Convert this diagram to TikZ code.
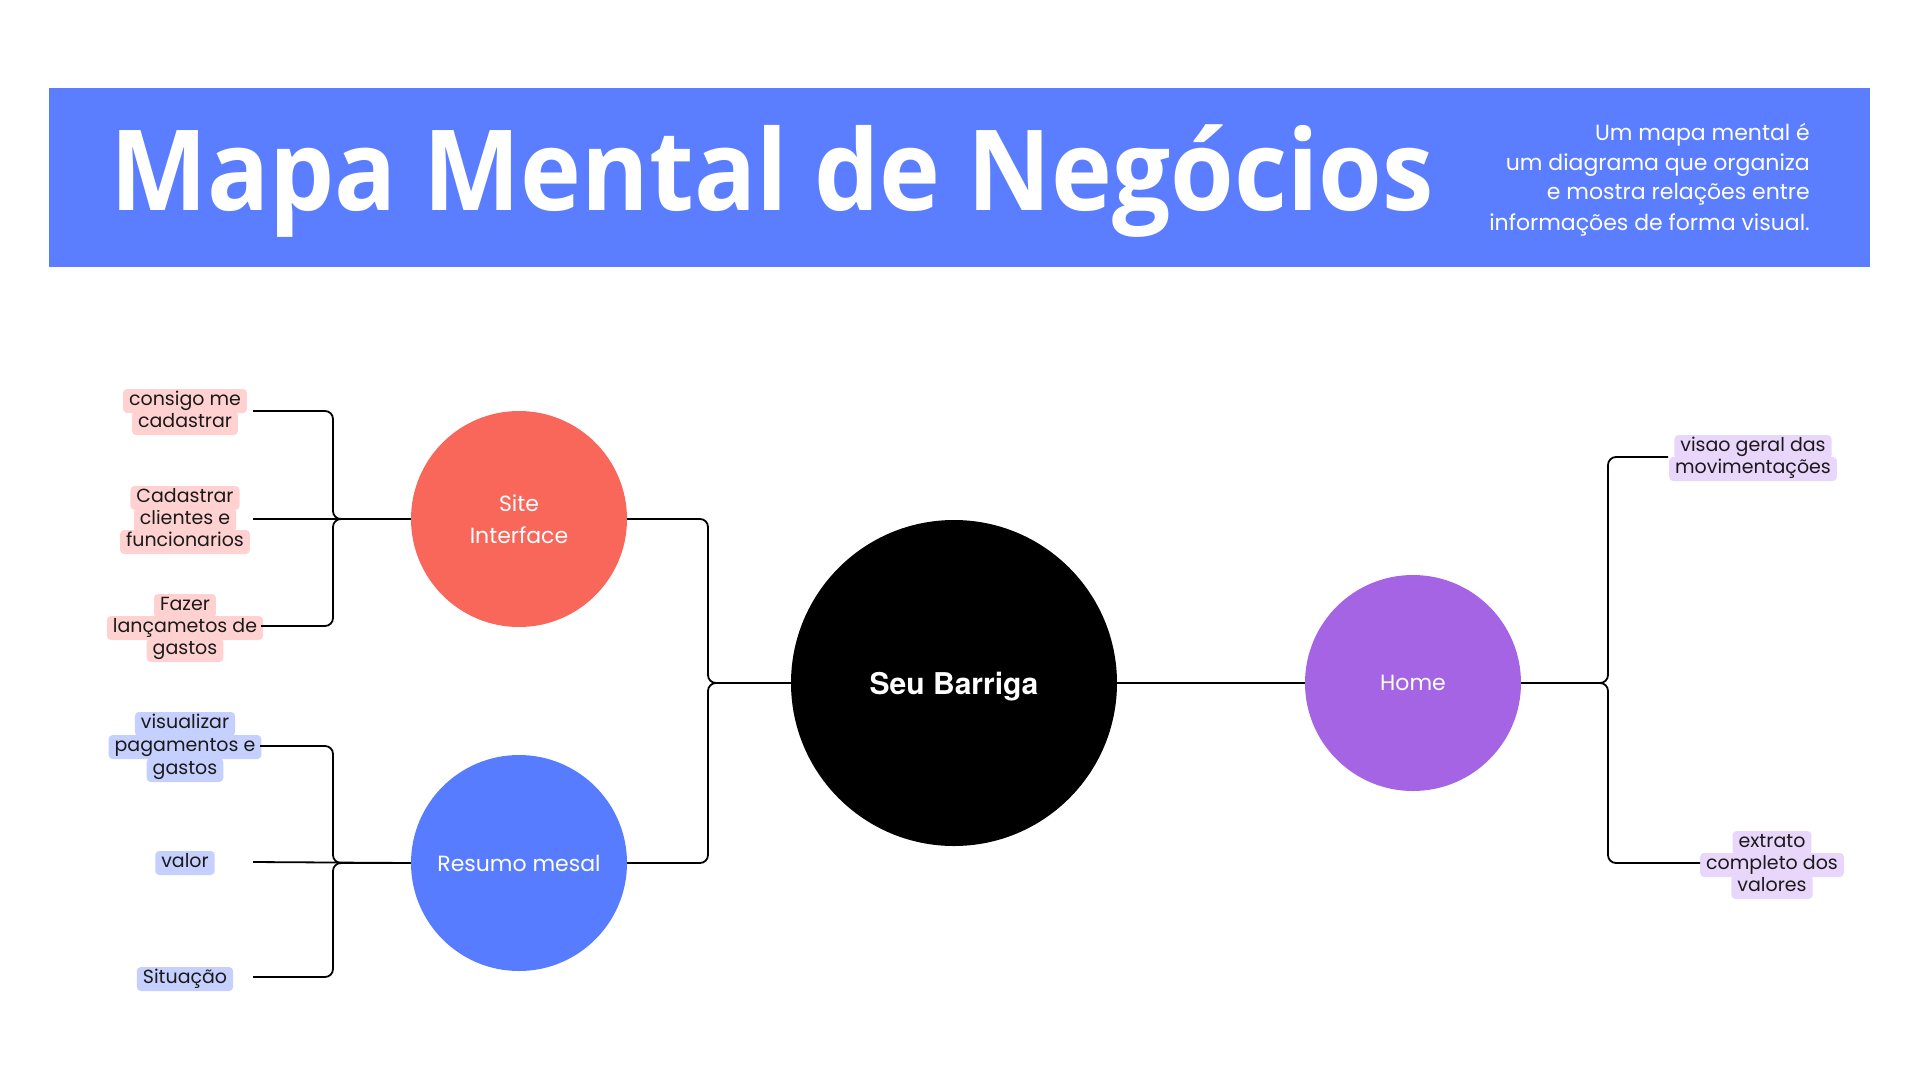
\documentclass[tikz,border=0pt]{standalone}
\usepackage{fontspec}
\setmainfont{Poppins}
\newfontfamily\titlefont{Open Sans}
\newfontfamily\herosfont{TeX Gyre Heros}
\definecolor{bannerblue}{HTML}{5A7EFF}
\definecolor{sitered}{HTML}{F9665A}
\definecolor{resblue}{HTML}{587CFF}
\definecolor{homepurple}{HTML}{A464E4}
\definecolor{pinkl}{HTML}{FFD2D1}
\definecolor{bluel}{HTML}{C6D0FF}
\definecolor{purplel}{HTML}{E9D6FB}
\definecolor{inktext}{HTML}{1A1A1A}
\tikzset{
  conn/.style={line width=1.8pt, rounded corners=8pt, draw=black},
  hlbase/.style={rounded corners=4pt, inner xsep=6pt, inner ysep=0pt,
    minimum height=24pt, text height=14pt, text depth=5pt,
    font=\fontsize{19}{22}\selectfont, text=inktext},
  pinkhl/.style={hlbase, fill=pinkl},
  bluehl/.style={hlbase, fill=bluel},
  purplehl/.style={hlbase, fill=purplel},
  bubble/.style={circle, minimum size=216pt, inner sep=0pt, text=white,
    font=\fontsize{22}{32}\selectfont, align=center},
  desc/.style={anchor=base east, text=white, inner sep=0pt,
    font=\fontsize{22}{30}\selectfont},
}
\begin{document}
\begin{tikzpicture}[x=1pt,y=-1pt]
\useasboundingbox (0,0) rectangle (1920,1080);
\fill[white] (0,0) rectangle (1920,1080);

% banner
\fill[bannerblue] (49,88) rectangle (1870,267);
\node[anchor=base west, inner sep=0pt, text=white] (title) at (110,210)
  {\scalebox{0.92}[1]{\titlefont\bfseries\fontsize{112}{120}\selectfont Mapa Mental de Negócios}};
\node[desc] (d1) at (1810,140) {Um mapa mental é};
\node[desc] (d2) at (1810,170) {um diagrama que organiza};
\node[desc] (d3) at (1810,199) {e mostra relações entre};
\node[desc] (d4) at (1810,230) {informações de forma visual.};

% main circles
\node[bubble, fill=black, minimum size=326pt, text height=22pt, text depth=0pt,
  font=\herosfont\bfseries\fontsize{30}{34}\selectfont] (seu) at (954,683) {Seu Barriga};
\node[bubble, fill=sitered] (site) at (519,519) {Site\\Interface};
\node[bubble, fill=resblue] (resumo) at (519,863) {Resumo mesal};
\node[bubble, fill=homepurple] (home) at (1413,683) {Home};

% junctions
\coordinate (jl) at (708,683);
\coordinate (js) at (333,519);
\coordinate (jr) at (333,863);
\coordinate (jh) at (1608,683);

\draw[conn] (site.east) -| (jl) -- (seu.west);
\draw[conn] (resumo.east) -| (jl) -- (seu.west);
\draw[conn] (seu.east) -- (home.west);

% site children
\node[pinkhl] (c1a) at (185,401) {consigo me};
\node[pinkhl] (c1b) at (185,423) {cadastrar};
\node[pinkhl] (c2b) at (185,520) {clientes e};
\node[pinkhl] (c2a) at (185,498) {Cadastrar};
\node[pinkhl] (c2c) at (185,542) {funcionarios};
\node[pinkhl] (c3b) at (185,628) {lançametos de};
\node[pinkhl] (c3a) at (185,606) {Fazer};
\node[pinkhl] (c3c) at (185,650) {gastos};

\coordinate (c1e) at (253,411);
\coordinate (c2e) at (253,519);
\coordinate (c3e) at (261,626);
\draw[conn] (c1e) -| (js) -- (site.west);
\draw[conn] (c2e) -- (site.west);
\draw[conn] (c3e) -| (js) -- (site.west);

% resumo children
\node[bluehl] (c4b) at (185,747) {pagamentos e};
\node[bluehl] (c4a) at (185,724) {visualizar};
\node[bluehl] (c4c) at (185,770) {gastos};
\node[bluehl] (c5) at (185,863) {valor};
\node[bluehl] (c6) at (185,979) {Situação};

\coordinate (c4e) at (260,746);
\coordinate (c5e) at (253,862);
\coordinate (c6e) at (253,977);
\draw[conn] (c4e) -| (jr) -- (resumo.west);
\draw[conn] (c5e) -- (resumo.west);
\draw[conn] (c6e) -| (jr) -- (resumo.west);

% home children
\node[purplehl] (h1a) at (1753,447) {visao geral das};
\node[purplehl] (h1b) at (1753,469) {movimentações};
\node[purplehl] (h2b) at (1772,865) {completo dos};
\node[purplehl] (h2a) at (1772,843) {extrato};
\node[purplehl] (h2c) at (1772,887) {valores};

\coordinate (h1e) at (1668,457);
\coordinate (h2e) at (1700,863);
\draw[conn] (home.east) -- (jh) |- (h1e);
\draw[conn] (home.east) -- (jh) |- (h2e);
\end{tikzpicture}
\end{document}
